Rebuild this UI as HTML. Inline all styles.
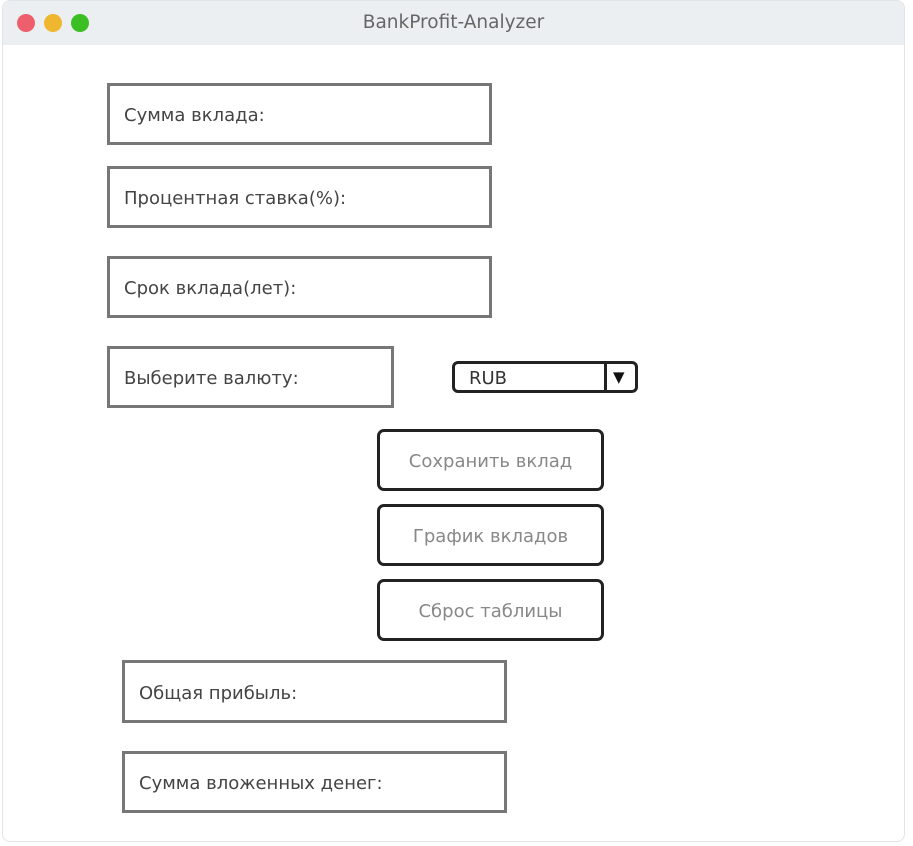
<!DOCTYPE html>
<html><head><meta charset="utf-8"><style>
body{margin:0;width:913px;height:846px;background:#fff;font-family:"DejaVu Sans","Liberation Sans",sans-serif;position:relative;overflow:hidden}
.win{position:absolute;left:2px;top:0;width:901px;height:840px;border:1px solid #e2e5e7;border-radius:8px;background:#fff;overflow:hidden}
.tb{position:absolute;left:0;top:0;right:0;height:44px;background:#eceff1}
.dot{position:absolute;top:13px;width:18px;height:18px;border-radius:50%}
.title{position:absolute;left:0;right:0;top:11px;text-align:center;font-size:18.5px;color:#666}
.box{position:absolute;border:3px solid #777;box-sizing:border-box;font-size:18px;color:#444;padding-left:14px;padding-top:3px;display:flex;align-items:center}
.btn{position:absolute;border:3px solid #222;border-radius:7px;box-sizing:border-box;font-size:18px;color:#888;padding-top:3px;display:flex;align-items:center;justify-content:center}
</style></head><body>
<div class="win">
<div class="tb"><div class="dot" style="left:14px;background:#ee5f6e"></div><div class="dot" style="left:41px;background:#efb630"></div><div class="dot" style="left:68px;background:#3cbf25"></div><div class="title">BankProfit-Analyzer</div></div>
</div>
<div class="box" style="left:107px;top:83px;width:385px;height:62px">Сумма вклада:</div>
<div class="box" style="left:107px;top:166px;width:385px;height:62px">Процентная ставка(%):</div>
<div class="box" style="left:107px;top:256px;width:385px;height:62px">Срок вклада(лет):</div>
<div class="box" style="left:107px;top:346px;width:287px;height:62px">Выберите валюту:</div>
<div style="position:absolute;left:452px;top:361px;width:186px;height:32px;border:3px solid #222;border-radius:6px;box-sizing:border-box;font-size:18px;color:#333">
<span style="position:absolute;left:14px;top:4px">RUB</span>
<div style="position:absolute;left:149px;top:0;bottom:0;border-left:3px solid #222"></div>
<span style="position:absolute;left:158px;top:4px;font-size:15px;color:#111">▼</span></div>
<div class="btn" style="left:377px;top:429px;width:227px;height:62px">Сохранить вклад</div>
<div class="btn" style="left:377px;top:504px;width:227px;height:62px">График вкладов</div>
<div class="btn" style="left:377px;top:579px;width:227px;height:62px">Сброс таблицы</div>
<div class="box" style="left:122px;top:660px;width:385px;height:63px">Общая прибыль:</div>
<div class="box" style="left:122px;top:751px;width:385px;height:62px">Сумма вложенных денег:</div>
</body></html>
